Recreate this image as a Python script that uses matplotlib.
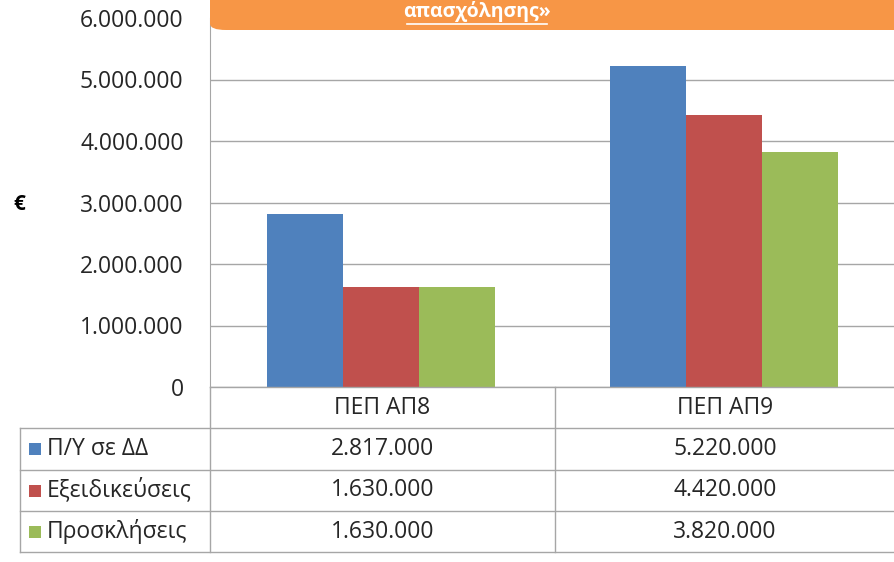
import matplotlib
matplotlib.use("Agg")
import matplotlib.pyplot as plt
import matplotlib.patches as mpatches
from matplotlib.lines import Line2D
import numpy as np

# ── Δεδομένα ─────────────────────────────────────────────────────────────────
categories = ["ΠΕΠ ΑΠ8", "ΠΕΠ ΑΠ9"]
series_names = ["Π/Υ σε ΔΔ", "Εξειδικεύσεις", "Προσκλήσεις"]
py_dd = [2817000, 5220000]
exeidikeyseis = [1630000, 4420000]
prosklhseis = [1630000, 3820000]
yticks = [0, 1000000, 2000000, 3000000, 4000000, 5000000, 6000000]
title_tail = "απασχόλησης»"

BLUE = "#4F81BD"
RED = "#C0504D"
GREEN = "#9BBB59"
ORANGE = "#F79646"
GRID = "#A6A6A6"
TXT = "#262626"
FS = 16.5

plt.rcParams["font.family"] = ["Open Sans", "DejaVu Sans"]

W, H = 895, 562
fig = plt.figure(figsize=(W / 100, H / 100), dpi=100)
fig.patch.set_facecolor("white")


def fx(px):
    return px / W


def fy(py):
    return 1 - py / H


def fmt(v):
    return f"{v:,.0f}".replace(",", ".")


# περιοχή γραφήματος: x 210 -> 895, y 18 (6M) -> 387 (0)
ax = fig.add_axes([fx(210), fy(387), fx(895) - fx(210), fy(18) - fy(387)])
x = np.arange(len(categories))
bw = 0.222
series = [py_dd, exeidikeyseis, prosklhseis]
colors = [BLUE, RED, GREEN]
for i, (vals, c) in enumerate(zip(series, colors)):
    ax.bar(x + (i - 1) * bw, vals, width=bw, color=c, zorder=3)

ax.set_xlim(-0.5, len(categories) - 0.5)
ax.set_ylim(0, 6000000)
ax.set_yticks(yticks)
ax.set_yticklabels([fmt(v) for v in yticks], fontsize=FS, color=TXT)
ax.yaxis.grid(True, color=GRID, linewidth=1, zorder=0)
ax.set_xticks([])
ax.tick_params(axis="y", length=0, pad=19)
for s in ["top", "right", "bottom"]:
    ax.spines[s].set_visible(False)
ax.spines["left"].set_color(GRID)

fig.text(fx(19), fy(205), "€", fontsize=15, fontweight="bold", color="black",
         ha="center", va="center")

# ── Πίνακας δεδομένων ───────────────────────────────────────────────────────
col_x = [210, 555, 895]
row_y = [387, 428, 470, 511, 552]
lw = 1.0
for cx in col_x:
    fig.add_artist(Line2D([fx(cx), fx(cx)], [fy(387), fy(552)], color=GRID, lw=lw))
fig.add_artist(Line2D([fx(20), fx(20)], [fy(428), fy(552)], color=GRID, lw=lw))
fig.add_artist(Line2D([fx(210), fx(895)], [fy(387), fy(387)], color=GRID, lw=lw))
for ry in row_y[1:]:
    fig.add_artist(Line2D([fx(20), fx(895)], [fy(ry), fy(ry)], color=GRID, lw=lw))

for j, cat in enumerate(categories):
    cx = (col_x[j] + col_x[j + 1]) / 2
    fig.text(fx(cx), fy((row_y[0] + row_y[1]) / 2), cat, fontsize=FS,
             color=TXT, ha="center", va="center")
    for i, vals in enumerate(series):
        fig.text(fx(cx), fy((row_y[i + 1] + row_y[i + 2]) / 2), fmt(vals[j]),
                 fontsize=FS, color=TXT, ha="center", va="center")

for i, (name, c) in enumerate(zip(series_names, colors)):
    cy = (row_y[i + 1] + row_y[i + 2]) / 2
    fig.add_artist(mpatches.Rectangle((fx(29), fy(cy + 6)), fx(12), 12 / H,
                                      facecolor=c, edgecolor="none"))
    fig.text(fx(47), fy(cy), name, fontsize=FS, color=TXT,
             ha="left", va="center")

# ── Μπάρα τίτλου ────────────────────────────────────────────────────────────
banner = mpatches.FancyBboxPatch((fx(210), fy(30)), fx(720), 60 / H,
                                 boxstyle="round,pad=0,rounding_size=0.018",
                                 facecolor=ORANGE, edgecolor="none",
                                 transform=fig.transFigure, zorder=5,
                                 mutation_aspect=H / W)
fig.add_artist(banner)
fig.text(fx(477), fy(12), title_tail, fontsize=14, fontweight="bold",
         color="white", ha="center", va="center", zorder=6)
fig.add_artist(Line2D([fx(407), fx(547)], [fy(24), fy(24)], color="white",
                      lw=1.2, zorder=6))

fig.savefig("out.png", dpi=100, facecolor="white")
